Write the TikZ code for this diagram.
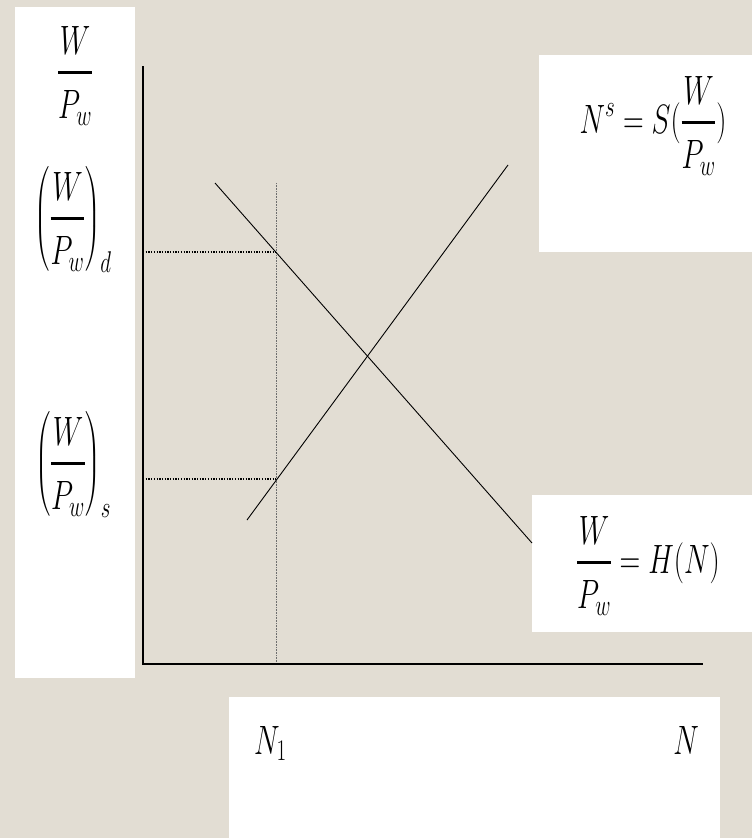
\RequirePackage{fix-cm}
\documentclass[tikz,border=0pt]{standalone}
\usepackage{amsmath}
\DeclareMathSizes{41}{41}{30}{24}
\definecolor{bgbeige}{RGB}{226,221,211}
\definecolor{dotgray}{RGB}{110,110,110}
\newcommand\sqzmath[1]{\scalebox{0.7}[1]{$\displaystyle #1$}}
\newcommand\wfrac{\genfrac{}{}{3.2pt}{0}{\rule[-7pt]{0pt}{0pt}W}{\rule{0pt}{35pt}P_w}}
\tikzset{
  whitebox/.style={fill=white,draw=none},
  axisline/.style={line width=2.2pt,black},
  curveline/.style={line width=0.9pt,black},
  guide/.style={line width=1.3pt,black,dash pattern=on 1.3pt off 1.4pt},
  vguide/.style={line width=0.7pt,dotgray,dash pattern=on 0.8pt off 0.8pt},
  lbl/.style={inner sep=0pt,anchor=base,font=\fontsize{41}{49}\selectfont}
}
\begin{document}
\begin{tikzpicture}[x=1pt,y=-1pt]
\useasboundingbox (0,0) rectangle (752,838);
\fill[bgbeige] (0,0) rectangle (752,838);
% white boxes
\fill[whitebox] (15,7) rectangle (135,678);
\fill[whitebox] (539,55) rectangle (752,252);
\fill[whitebox] (532,495) rectangle (752,632);
\fill[whitebox] (229,697) rectangle (720,838);
% coordinates
\coordinate (ytop) at (143,66);
\coordinate (org) at (143,664);
\coordinate (xend) at (703,664);
\coordinate (dA) at (215,183);
\coordinate (dB) at (532,543);
\coordinate (sA) at (247,520);
\coordinate (sB) at (508,165);
\coordinate (vtop) at (276,183);
\coordinate (vbot) at (276,664);
\coordinate (pd) at (276,252);
\coordinate (pdL) at (143,252);
\coordinate (ps) at (276,479);
\coordinate (psL) at (143,479);
% guides
\draw[vguide] (vtop) -- (vbot);
\draw[guide] (pdL) -- (pd);
\draw[guide] (psL) -- (ps);
% curves
\draw[curveline] (dA) -- (dB);
\draw[curveline] (sA) -- (sB);
% axes
\draw[axisline] (ytop) -- (org) -- (xend);
% labels
\node[lbl] (wp) at (75,83) {\sqzmath{\wfrac}};
\node[lbl] (wpd) at (73,229) {\sqzmath{\left(\wfrac\right)_{d}}};
\node[lbl] (wps) at (73,474) {\sqzmath{\left(\wfrac\right)_{s}}};
\node[lbl] (ns) at (653,133) {\sqzmath{N^{s}=S(\wfrac)}};
\node[lbl] (hn) at (648,573) {\sqzmath{\wfrac=H(N)}};
\node[lbl,anchor=base west] (n1) at (254,754) {\sqzmath{N_1}};
\node[lbl] (nn) at (686,754) {\sqzmath{N}};
\end{tikzpicture}
\end{document}
